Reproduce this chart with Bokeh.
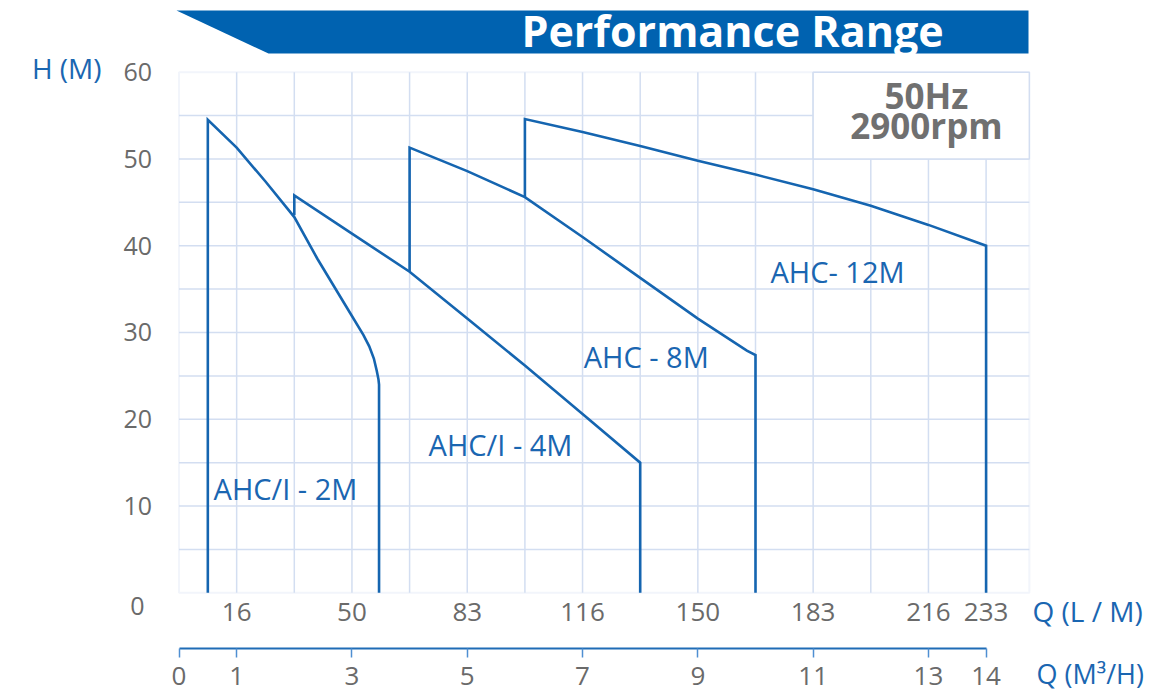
from bokeh.plotting import figure
from bokeh.models import Range1d, FixedTicker, LinearAxis, BoxAnnotation
from bokeh.embed import file_html
from bokeh.resources import INLINE
from bokeh.core.properties import value

# ---------------- data ----------------
# flow in m3/h, head in m
q_2m = [0.5, 0.5, 1.0, 1.5, 2.0, 2.4, 2.9, 3.2, 3.3, 3.38, 3.43, 3.46, 3.47, 3.47]
h_2m = [0.0, 54.5, 51.3, 47.4, 43.3, 38.5, 33.0, 29.7, 28.4, 27.0, 25.6, 24.6, 24.0, 0.0]

q_4m = [2.0, 2.0, 3.0, 4.0, 5.0, 6.0, 7.0, 8.0, 8.0]
h_4m = [43.5, 45.8, 41.4, 37.0, 31.6, 26.2, 20.6, 15.0, 0.0]

q_8m = [4.0, 4.0, 5.0, 6.0, 7.0, 8.0, 9.0, 9.85, 10.0, 10.0]
h_8m = [37.0, 51.3, 48.6, 45.6, 41.0, 36.3, 31.6, 27.9, 27.4, 0.0]

q_12m = [6.0, 6.0, 7.0, 8.0, 9.0, 10.0, 11.0, 12.0, 13.0, 14.0, 14.0]
h_12m = [45.6, 54.6, 53.1, 51.5, 49.8, 48.2, 46.5, 44.6, 42.4, 40.0, 0.0]

series_names = ["AHC/I - 2M", "AHC/I - 4M", "AHC - 8M", "AHC- 12M"]
name_q = [0.6, 4.33, 7.02, 10.26]
name_h = [12.0, 17.1, 27.2, 37.0]

lpm_ticks = [1, 3, 5, 7, 9, 11, 13, 14]
lpm_labels = ["16", "50", "83", "116", "150", "183", "216", "233"]
m3h_ticks = [0, 1, 3, 5, 7, 9, 11, 13, 14]
head_ticks = [10, 20, 30, 40, 50, 60]
grid_q = list(range(1, 15))
grid_h = list(range(5, 60, 5))

Q_MAX = 14.75   # right edge of the plotting area
H_MAX = 60

# ---------------- style ----------------
FONT = "Open Sans"
CURVE = "#1565b0"
TXTBLUE = "#1a66b1"
BANNER = "#0062b0"
GRAY = "#6a6a6a"
GRID = "#d3def1"

# one frame over the whole canvas; data area placed inside it
W, H = 1173, 691
PX_Q = 57.65          # pixels per m3/h
PX_H = 8.677          # pixels per metre
X0, Y0 = 178.5, 592.3 # pixel of origin
xr = Range1d(-X0 / PX_Q, (W - X0) / PX_Q)
yr = Range1d((Y0 - H) / PX_H, Y0 / PX_H)


def qx(px):
    return (px - X0) / PX_Q


def hy(py):
    return (Y0 - py) / PX_H


p = figure(width=W, height=H, x_range=xr, y_range=yr,
           output_backend="svg", toolbar_location=None,
           x_axis_type=None, y_axis_type=None,
           min_border=0, outline_line_color=None)
p.xgrid.visible = False
p.ygrid.visible = False

# banner
p.patch(x=[qx(176), qx(1028), qx(1028), qx(268)],
        y=[hy(10), hy(10), hy(53), hy(53)],
        fill_color=BANNER, line_color=None)
p.text(x=[qx(732)], y=[hy(30)], text=["Performance Range"], text_color="white",
       text_font=value(FONT), text_font_style="bold", text_font_size="43px",
       text_align="center", text_baseline="middle")

# grid
p.segment(x0=grid_q, y0=[0] * len(grid_q), x1=grid_q, y1=[H_MAX] * len(grid_q),
          line_color=GRID, line_width=1.5)
p.segment(x0=[0] * len(grid_h), y0=grid_h, x1=[Q_MAX] * len(grid_h), y1=grid_h,
          line_color=GRID, line_width=1.5)
# white box of the 50Hz note
p.quad(left=[11], right=[Q_MAX], bottom=[50], top=[H_MAX],
       fill_color="white", line_color=GRID, line_width=1.5)
# frame of the plotting area
p.add_layout(BoxAnnotation(left=0, right=Q_MAX, bottom=0, top=H_MAX,
                           fill_alpha=0, line_color=GRID, line_width=2,
                           level="underlay"))

for q, h in ((q_2m, h_2m), (q_4m, h_4m), (q_8m, h_8m), (q_12m, h_12m)):
    p.line(q, h, line_color=CURVE, line_width=2.6, line_join="miter")

p.text(x=name_q, y=name_h, text=series_names, text_color=TXTBLUE,
       text_font=value(FONT), text_font_size="29px",
       text_align="left", text_baseline="middle")

p.text(x=[qx(926), qx(926)], y=[hy(95), hy(125)], text=["50Hz", "2900rpm"],
       text_color="#707070", text_font=value(FONT), text_font_style="bold",
       text_font_size="35px", text_align="center", text_baseline="middle")

# axis titles and the lone zero
p.text(x=[qx(101)], y=[hy(67)], text=["H (M)"], text_color=TXTBLUE,
       text_font=value(FONT), text_font_size="28px",
       text_align="right", text_baseline="middle")
p.text(x=[qx(144)], y=[hy(605)], text=["0"], text_color=GRAY,
       text_font=value(FONT), text_font_size="25px",
       text_align="right", text_baseline="middle")
p.text(x=[qx(1032)], y=[hy(610)], text=["Q (L / M)"], text_color=TXTBLUE,
       text_font=value(FONT), text_font_size="28px",
       text_align="left", text_baseline="middle")
p.text(x=[qx(1036)], y=[hy(673)], text=["Q (M³/H)"], text_color=TXTBLUE,
       text_font=value(FONT), text_font_size="27px",
       text_align="left", text_baseline="middle")

# y axis (head)
ya = LinearAxis(fixed_location=0, ticker=FixedTicker(ticks=head_ticks))
ya.axis_line_color = None
ya.major_tick_line_color = None
ya.minor_tick_line_color = None
ya.major_label_standoff = 21
ya.major_label_text_font = FONT
ya.major_label_text_font_size = "25px"
ya.major_label_text_color = GRAY
p.add_layout(ya, "left")

# x axis in L/min
xa = LinearAxis(fixed_location=0, ticker=FixedTicker(ticks=lpm_ticks))
xa.major_label_overrides = {t: s for t, s in zip(lpm_ticks, lpm_labels)}
xa.axis_line_color = None
xa.major_tick_line_color = None
xa.minor_tick_line_color = None
xa.major_label_standoff = 4
xa.major_label_text_font = FONT
xa.major_label_text_font_size = "26px"
xa.major_label_text_color = GRAY
p.add_layout(xa, "below")

# x axis in m3/h
ca = LinearAxis(fixed_location=hy(648), ticker=FixedTicker(ticks=m3h_ticks),
                bounds=(0, 14))
ca.axis_line_color = "#1f6cb6"
ca.axis_line_width = 2
ca.major_tick_out = 9
ca.major_tick_in = 0
ca.major_tick_line_color = "#4f8fd2"
ca.major_tick_line_width = 1.5
ca.minor_tick_line_color = None
ca.major_label_standoff = 9
ca.major_label_text_font = FONT
ca.major_label_text_font_size = "26px"
ca.major_label_text_color = GRAY
p.add_layout(ca, "below")

open("out.html", "w").write(file_html(p, INLINE))
